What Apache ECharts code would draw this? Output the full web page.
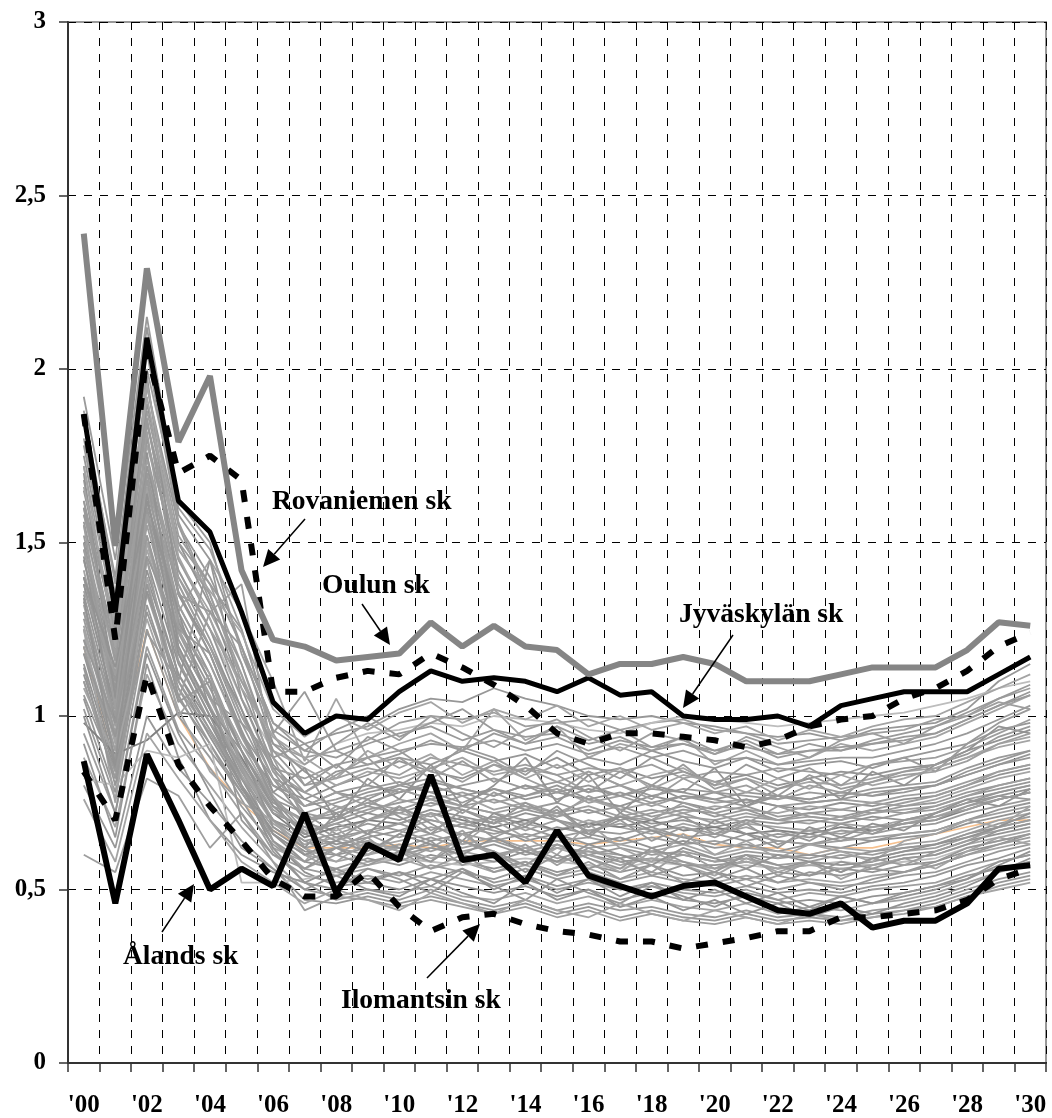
<!DOCTYPE html>
<html>
<head>
<meta charset="utf-8">
<script src="https://cdn.jsdelivr.net/npm/echarts@6/dist/echarts.min.js"></script>
<style>
html,body{margin:0;padding:0;background:#fff;}
#chart{width:1052px;height:1118px;}
</style>
</head>
<body>
<div id="chart"></div>
<script>
// ---------- DATA ----------
const years = ["'00","'01","'02","'03","'04","'05","'06","'07","'08","'09","'10","'11","'12","'13","'14","'15","'16","'17","'18","'19","'20","'21","'22","'23","'24","'25","'26","'27","'28","'29","'30"];
const yTicks = [0, 0.5, 1, 1.5, 2, 2.5, 3];

const oulun      = [2.39,1.49,2.29,1.79,1.98,1.42,1.22,1.20,1.16,1.17,1.18,1.27,1.20,1.26,1.20,1.19,1.12,1.15,1.15,1.17,1.15,1.10,1.10,1.10,1.12,1.14,1.14,1.14,1.19,1.27,1.26];
const rovaniemi  = [1.87,1.22,2.05,1.70,1.75,1.68,1.07,1.07,1.11,1.13,1.12,1.18,1.14,1.09,1.03,0.95,0.92,0.95,0.95,0.94,0.93,0.91,0.93,0.97,0.99,1.00,1.05,1.08,1.13,1.20,1.24];
const jyvaskyla  = [1.87,1.30,2.09,1.62,1.53,1.30,1.04,0.95,1.00,0.99,1.07,1.13,1.10,1.11,1.10,1.07,1.11,1.06,1.07,1.00,0.99,0.99,1.00,0.97,1.03,1.05,1.07,1.07,1.07,1.12,1.17];
const alands     = [0.87,0.46,0.89,0.70,0.50,0.56,0.51,0.72,0.49,0.63,0.585,0.83,0.585,0.60,0.52,0.67,0.54,0.51,0.48,0.51,0.52,0.48,0.44,0.43,0.46,0.39,0.41,0.41,0.46,0.56,0.57];
const ilomantsi  = [0.84,0.70,1.12,0.86,0.74,0.64,0.53,0.48,0.48,0.55,0.45,0.38,0.42,0.43,0.40,0.38,0.37,0.35,0.35,0.33,0.345,0.36,0.38,0.38,0.42,0.42,0.43,0.44,0.47,0.53,0.56];
const orangeRow  = [1.20,0.85,1.25,1.00,0.85,0.75,0.67,0.62,0.62,0.62,0.63,0.62,0.64,0.64,0.64,0.64,0.63,0.64,0.65,0.66,0.63,0.62,0.62,0.60,0.62,0.62,0.64,0.66,0.68,0.70,0.70];

const gray01 = [1.75,1.30,1.95,1.55,1.40,1.20,0.98,0.92,0.95,0.97,1.02,1.05,1.04,1.08,1.05,1.03,1.00,0.99,1.00,0.98,0.97,0.95,0.94,0.95,0.93,0.96,0.97,0.98,1.02,1.10,1.15];
const gray02 = [1.68,1.22,1.88,1.48,1.35,1.10,0.92,0.88,0.90,0.93,0.98,1.00,0.99,1.01,0.97,0.98,0.99,0.96,0.98,0.99,0.96,0.95,0.92,0.93,0.94,0.95,0.96,0.99,1.00,1.05,1.08];
const gray03 = [1.55,1.15,1.80,1.42,1.25,1.05,0.90,0.86,0.92,0.95,0.96,0.98,0.97,1.00,0.99,0.98,0.96,0.95,0.98,1.00,0.99,0.98,0.97,0.98,0.99,1.00,1.01,1.03,1.05,1.08,1.10];
const gray04 = [1.50,1.05,1.70,1.30,1.45,1.30,1.10,0.87,1.05,0.88,0.92,0.95,0.90,1.02,0.93,0.97,0.88,0.92,0.90,0.94,0.86,0.90,0.86,0.88,0.92,0.90,0.92,0.94,0.98,1.02,1.06];
const gray05 = [1.62,1.18,1.85,1.40,1.22,1.00,0.85,0.82,0.86,0.88,0.90,0.92,0.91,0.93,0.90,0.92,0.89,0.91,0.88,0.90,0.87,0.88,0.86,0.87,0.88,0.88,0.90,0.92,0.95,0.99,1.03];
const gray06 = [1.45,1.10,1.72,1.35,1.18,0.95,0.82,0.78,0.84,0.86,0.88,0.86,0.90,0.87,0.89,0.85,0.88,0.86,0.90,0.87,0.85,0.88,0.84,0.86,0.87,0.85,0.88,0.90,0.92,0.96,0.98];
const gray07 = [1.80,1.35,2.00,1.60,1.48,1.25,0.95,0.80,0.82,0.85,0.83,0.88,0.86,0.84,0.86,0.83,0.85,0.84,0.86,0.82,0.84,0.83,0.85,0.84,0.83,0.86,0.87,0.88,0.91,0.95,0.99];
const gray08 = [1.38,1.02,1.62,1.28,1.10,0.92,0.80,0.76,0.80,0.83,0.87,0.84,0.82,0.86,0.84,0.88,0.83,0.85,0.82,0.84,0.81,0.83,0.80,0.82,0.84,0.83,0.85,0.86,0.90,0.93,0.96];
const gray09 = [1.58,1.20,1.78,1.45,1.30,1.12,0.90,0.85,0.80,0.84,0.82,0.85,0.88,0.83,0.85,0.81,0.84,0.80,0.83,0.85,0.80,0.82,0.79,0.81,0.80,0.82,0.84,0.85,0.88,0.92,0.94];
const gray10 = [1.52,1.12,1.75,1.38,1.20,0.98,0.80,0.74,0.76,0.79,0.81,0.78,0.80,0.82,0.79,0.81,0.78,0.80,0.77,0.79,0.78,0.77,0.76,0.78,0.77,0.79,0.80,0.81,0.85,0.88,0.90];
const gray11 = [1.40,1.05,1.65,1.30,1.12,0.90,0.76,0.72,0.75,0.78,0.80,0.82,0.79,0.77,0.80,0.76,0.79,0.77,0.80,0.76,0.78,0.75,0.77,0.76,0.78,0.77,0.78,0.80,0.83,0.86,0.88];
const gray12 = [1.30,0.95,1.55,1.22,1.05,0.88,0.74,0.70,0.73,0.77,0.79,0.76,0.78,0.75,0.77,0.79,0.75,0.77,0.74,0.77,0.75,0.76,0.74,0.75,0.76,0.75,0.77,0.78,0.81,0.84,0.86];
const gray13 = [1.65,1.25,1.90,1.50,1.32,1.08,0.86,0.76,0.72,0.75,0.78,0.80,0.77,0.79,0.76,0.78,0.76,0.74,0.77,0.75,0.73,0.76,0.74,0.73,0.75,0.74,0.76,0.77,0.80,0.83,0.85];
const gray14 = [1.22,0.90,1.48,1.18,1.02,0.85,0.72,0.68,0.74,0.72,0.76,0.74,0.77,0.73,0.75,0.72,0.76,0.73,0.75,0.72,0.74,0.73,0.72,0.74,0.73,0.75,0.74,0.76,0.79,0.82,0.84];
const gray15 = [1.48,1.08,1.70,1.32,1.15,0.95,0.78,0.72,0.70,0.73,0.75,0.77,0.74,0.76,0.73,0.75,0.72,0.74,0.71,0.73,0.72,0.74,0.71,0.72,0.73,0.72,0.74,0.75,0.78,0.80,0.82];
const gray16 = [1.35,1.00,1.60,1.25,1.08,0.90,0.75,0.70,0.71,0.74,0.72,0.75,0.73,0.70,0.73,0.71,0.73,0.70,0.72,0.74,0.71,0.73,0.70,0.72,0.71,0.73,0.72,0.74,0.77,0.79,0.81];
const gray17 = [1.72,1.28,1.95,1.52,1.38,1.15,0.88,0.78,0.74,0.70,0.73,0.71,0.74,0.72,0.70,0.72,0.69,0.71,0.70,0.72,0.69,0.71,0.70,0.69,0.71,0.70,0.72,0.73,0.76,0.78,0.80];
const gray18 = [1.18,0.86,1.42,1.12,0.98,0.82,0.70,0.66,0.69,0.72,0.70,0.73,0.71,0.69,0.72,0.70,0.68,0.71,0.69,0.70,0.68,0.70,0.69,0.70,0.69,0.71,0.70,0.72,0.75,0.77,0.79];
const gray19 = [1.42,1.04,1.66,1.28,1.10,0.92,0.76,0.69,0.67,0.70,0.72,0.70,0.68,0.71,0.69,0.67,0.70,0.68,0.66,0.69,0.67,0.69,0.68,0.67,0.69,0.68,0.70,0.71,0.74,0.76,0.78];
const gray20 = [1.28,0.94,1.52,1.20,1.02,0.84,0.70,0.64,0.66,0.69,0.67,0.70,0.68,0.66,0.68,0.65,0.67,0.66,0.68,0.65,0.66,0.64,0.66,0.65,0.67,0.66,0.68,0.69,0.72,0.74,0.76];
const gray21 = [1.56,1.16,1.80,1.42,1.25,1.02,0.82,0.70,0.65,0.67,0.69,0.66,0.69,0.67,0.65,0.68,0.66,0.64,0.67,0.65,0.63,0.66,0.64,0.63,0.65,0.64,0.66,0.67,0.70,0.73,0.75];
const gray22 = [1.10,0.82,1.35,1.08,0.95,0.80,0.68,0.62,0.64,0.67,0.65,0.68,0.66,0.64,0.66,0.64,0.65,0.63,0.65,0.63,0.64,0.62,0.64,0.63,0.64,0.65,0.66,0.67,0.70,0.72,0.74];
const gray23 = [1.38,1.02,1.62,1.27,1.10,0.90,0.74,0.66,0.63,0.65,0.67,0.64,0.66,0.68,0.64,0.66,0.63,0.65,0.62,0.64,0.62,0.63,0.61,0.63,0.62,0.64,0.65,0.66,0.69,0.71,0.73];
const gray24 = [1.25,0.92,1.50,1.18,1.00,0.83,0.69,0.63,0.65,0.62,0.64,0.66,0.63,0.65,0.62,0.64,0.62,0.63,0.61,0.63,0.60,0.62,0.61,0.60,0.62,0.61,0.63,0.64,0.67,0.70,0.72];
const gray25 = [1.60,1.20,1.85,1.45,1.28,1.05,0.84,0.72,0.66,0.63,0.62,0.65,0.62,0.64,0.61,0.63,0.60,0.62,0.60,0.61,0.59,0.61,0.60,0.59,0.61,0.60,0.62,0.63,0.66,0.69,0.71];
const gray26 = [1.05,0.78,1.30,1.05,0.92,0.78,0.66,0.60,0.62,0.64,0.61,0.63,0.61,0.63,0.60,0.62,0.61,0.59,0.61,0.60,0.58,0.60,0.59,0.60,0.59,0.61,0.62,0.63,0.66,0.68,0.70];
const gray27 = [1.45,1.07,1.68,1.32,1.15,0.94,0.77,0.67,0.62,0.60,0.63,0.61,0.64,0.60,0.62,0.59,0.61,0.60,0.58,0.60,0.58,0.59,0.57,0.58,0.60,0.59,0.61,0.62,0.65,0.67,0.69];
const gray28 = [1.15,0.85,1.40,1.12,0.96,0.80,0.66,0.58,0.56,0.59,0.57,0.60,0.58,0.56,0.58,0.55,0.57,0.55,0.57,0.54,0.55,0.53,0.55,0.54,0.56,0.55,0.57,0.58,0.61,0.63,0.66];
const gray29 = [1.32,0.98,1.58,1.25,1.05,0.86,0.70,0.60,0.55,0.57,0.59,0.56,0.58,0.55,0.57,0.54,0.56,0.53,0.55,0.53,0.52,0.54,0.52,0.53,0.52,0.54,0.55,0.57,0.60,0.62,0.64];
const gray30 = [1.02,0.76,1.25,1.00,0.88,0.74,0.63,0.56,0.54,0.56,0.54,0.57,0.55,0.53,0.56,0.53,0.55,0.52,0.54,0.52,0.51,0.53,0.50,0.52,0.51,0.52,0.54,0.55,0.58,0.61,0.63];
const gray31 = [1.50,1.10,1.72,1.36,1.18,0.96,0.76,0.62,0.55,0.53,0.55,0.53,0.56,0.52,0.54,0.51,0.53,0.50,0.52,0.50,0.49,0.51,0.49,0.50,0.49,0.51,0.52,0.54,0.57,0.59,0.62];
const gray32 = [0.95,0.72,1.20,0.96,0.85,0.72,0.60,0.54,0.52,0.54,0.52,0.55,0.53,0.51,0.53,0.50,0.52,0.50,0.51,0.49,0.48,0.50,0.47,0.49,0.48,0.50,0.51,0.52,0.55,0.58,0.60];
const gray33 = [1.20,0.88,1.45,1.15,0.98,0.80,0.64,0.55,0.51,0.52,0.50,0.53,0.51,0.49,0.51,0.48,0.50,0.47,0.49,0.47,0.46,0.48,0.46,0.47,0.46,0.48,0.49,0.51,0.54,0.56,0.58];
const gray34 = [0.88,0.68,1.12,0.92,0.80,0.68,0.58,0.50,0.48,0.50,0.49,0.51,0.48,0.47,0.49,0.46,0.48,0.45,0.47,0.45,0.44,0.46,0.43,0.45,0.44,0.46,0.47,0.49,0.52,0.55,0.57];
const gray35 = [1.10,0.82,1.38,1.08,0.92,0.76,0.61,0.52,0.47,0.49,0.47,0.50,0.47,0.45,0.47,0.44,0.46,0.44,0.45,0.43,0.42,0.44,0.42,0.43,0.42,0.44,0.45,0.47,0.50,0.53,0.55];
const gray36 = [0.80,0.62,1.00,0.85,0.75,0.64,0.56,0.47,0.46,0.48,0.46,0.48,0.46,0.44,0.46,0.43,0.45,0.42,0.44,0.42,0.41,0.43,0.41,0.42,0.41,0.43,0.44,0.46,0.49,0.52,0.54];
const gray37 = [0.60,0.55,0.82,0.77,0.62,0.72,0.58,0.44,0.48,0.47,0.45,0.47,0.45,0.43,0.45,0.42,0.44,0.41,0.43,0.41,0.40,0.42,0.40,0.41,0.40,0.42,0.43,0.45,0.48,0.51,0.53];
const gray38 = [0.98,0.89,0.93,1.01,1.00,0.88,0.72,0.65,0.68,0.70,0.69,0.72,0.70,0.68,0.70,0.67,0.69,0.68,0.70,0.67,0.68,0.66,0.67,0.66,0.68,0.67,0.69,0.70,0.73,0.76,0.78];
const gray39 = [0.82,0.80,0.90,0.88,0.92,0.52,0.52,0.53,0.55,0.58,0.59,0.58,0.57,0.58,0.59,0.58,0.57,0.56,0.58,0.57,0.56,0.57,0.56,0.57,0.58,0.57,0.58,0.59,0.62,0.64,0.66];
const gray40 = [1.62,1.24,1.84,1.50,1.38,1.25,0.95,1.07,0.90,0.86,0.89,0.93,0.90,0.95,0.92,0.94,0.90,0.93,0.91,0.92,0.89,0.92,0.88,0.90,0.91,0.92,0.94,0.95,0.99,1.03,1.06];
const gray41 = [1.85,1.40,2.12,1.58,1.45,1.20,0.92,0.84,0.78,0.76,0.80,0.78,0.75,0.79,0.77,0.80,0.76,0.78,0.75,0.77,0.76,0.74,0.77,0.75,0.76,0.78,0.79,0.80,0.84,0.87,0.90];
const gray42 = [1.33,0.97,1.57,1.24,1.06,0.87,0.73,0.67,0.69,0.66,0.69,0.72,0.69,0.71,0.67,0.70,0.67,0.69,0.67,0.68,0.66,0.68,0.65,0.67,0.66,0.68,0.69,0.71,0.73,0.76,0.78];
const gray43 = [1.12,0.84,1.36,1.10,0.94,0.79,0.67,0.61,0.60,0.62,0.60,0.62,0.60,0.58,0.61,0.58,0.60,0.58,0.59,0.57,0.57,0.58,0.56,0.58,0.57,0.58,0.60,0.61,0.64,0.66,0.68];
const gray44 = [1.26,0.93,1.50,1.19,1.03,0.85,0.70,0.62,0.58,0.60,0.62,0.59,0.61,0.59,0.62,0.58,0.60,0.57,0.59,0.58,0.56,0.58,0.56,0.57,0.56,0.57,0.59,0.60,0.63,0.65,0.67];
const gray45 = [1.92,1.45,2.15,1.62,1.50,1.18,0.96,0.90,0.88,0.92,0.95,0.97,0.93,0.96,0.94,0.95,0.92,0.94,0.90,0.92,0.90,0.91,0.89,0.90,0.90,0.92,0.93,0.95,0.99,1.03,1.07];
const gray46 = [1.40,1.08,1.60,1.10,1.45,1.05,0.85,0.74,0.78,0.80,0.78,0.81,0.79,0.77,0.80,0.78,0.80,0.77,0.79,0.78,0.76,0.78,0.77,0.76,0.78,0.77,0.79,0.80,0.83,0.86,0.89];
const gray47 = [1.20,0.90,1.45,1.05,1.30,1.38,0.88,0.70,0.72,0.75,0.73,0.76,0.74,0.72,0.74,0.72,0.74,0.71,0.73,0.71,0.70,0.72,0.70,0.71,0.70,0.72,0.73,0.74,0.77,0.80,0.82];
const gray48 = [1.70,1.05,1.98,1.35,1.20,1.02,0.78,0.85,0.70,0.82,0.76,0.86,0.74,0.80,0.88,0.75,0.83,0.72,0.80,0.78,0.85,0.74,0.79,0.82,0.76,0.84,0.80,0.86,0.90,0.97,0.95];
const gray49 = [1.25,0.75,1.40,1.00,1.12,0.80,0.62,0.58,0.68,0.60,0.66,0.72,0.63,0.70,0.65,0.60,0.69,0.62,0.58,0.66,0.60,0.64,0.59,0.63,0.61,0.58,0.64,0.66,0.70,0.68,0.74];
const gray50 = [1.58,1.28,1.68,1.22,1.05,0.98,0.88,0.92,0.85,0.94,0.90,0.84,0.91,0.88,0.83,0.90,0.86,0.82,0.88,0.84,0.80,0.86,0.82,0.85,0.80,0.86,0.88,0.84,0.92,0.98,1.02];
const gray51 = [0.92,0.65,1.15,0.88,0.70,0.60,0.55,0.52,0.50,0.56,0.53,0.49,0.55,0.51,0.47,0.53,0.49,0.46,0.51,0.48,0.45,0.49,0.47,0.44,0.48,0.46,0.49,0.51,0.53,0.58,0.60];
const gray52 = [1.36,1.12,1.58,1.40,1.25,1.10,0.94,0.86,0.92,0.98,0.93,1.00,0.95,0.91,0.96,0.99,0.94,0.90,0.95,0.93,0.89,0.94,0.91,0.88,0.93,0.95,0.92,0.97,1.00,1.04,1.02];
const gray53 = [1.46,0.98,1.76,1.20,1.02,0.90,0.68,0.62,0.72,0.66,0.74,0.69,0.64,0.72,0.68,0.74,0.66,0.71,0.67,0.63,0.70,0.66,0.62,0.68,0.65,0.69,0.67,0.72,0.76,0.74,0.79];
const gray54 = [1.08,0.88,1.28,1.02,0.84,0.75,0.70,0.60,0.58,0.64,0.61,0.58,0.66,0.60,0.57,0.62,0.59,0.55,0.61,0.57,0.54,0.59,0.55,0.58,0.53,0.57,0.59,0.56,0.61,0.65,0.63];
const gray55 = [1.78,1.32,2.05,1.55,1.33,1.15,0.90,0.80,0.86,0.80,0.88,0.82,0.87,0.81,0.85,0.83,0.78,0.84,0.80,0.86,0.79,0.82,0.77,0.83,0.79,0.81,0.84,0.86,0.89,0.94,0.97];
const gray56 = [1.22,0.98,1.46,1.25,1.18,0.95,0.76,0.66,0.70,0.76,0.71,0.66,0.73,0.69,0.75,0.70,0.65,0.72,0.68,0.71,0.66,0.70,0.67,0.64,0.69,0.66,0.70,0.72,0.75,0.78,0.80];
const gray57 = [1.55,1.02,1.82,1.26,1.12,0.85,0.64,0.56,0.60,0.65,0.58,0.62,0.67,0.59,0.63,0.57,0.62,0.58,0.55,0.61,0.56,0.60,0.54,0.58,0.55,0.59,0.57,0.61,0.64,0.68,0.70];
const gray58 = [1.00,0.72,1.18,0.95,0.78,0.62,0.56,0.50,0.54,0.50,0.48,0.53,0.49,0.46,0.52,0.47,0.50,0.45,0.48,0.44,0.47,0.43,0.46,0.42,0.45,0.43,0.46,0.48,0.51,0.55,0.59];
const gray59 = [1.66,1.26,1.92,1.46,1.28,1.08,0.94,0.88,0.82,0.90,0.85,0.89,0.83,0.87,0.82,0.86,0.81,0.85,0.79,0.83,0.81,0.78,0.82,0.79,0.83,0.80,0.82,0.85,0.88,0.91,0.93];
const gray60 = [1.30,1.00,1.52,1.16,0.98,0.86,0.72,0.68,0.64,0.70,0.74,0.67,0.71,0.65,0.69,0.73,0.66,0.70,0.64,0.68,0.65,0.69,0.63,0.66,0.64,0.67,0.69,0.70,0.74,0.77,0.76];
const gray61 = [1.14,0.80,1.32,1.04,1.10,0.70,0.60,0.56,0.62,0.58,0.60,0.64,0.57,0.61,0.55,0.60,0.56,0.59,0.54,0.57,0.53,0.56,0.52,0.55,0.54,0.56,0.55,0.58,0.62,0.64,0.66];
const gray62 = [1.88,1.38,2.08,1.56,1.35,1.12,0.84,0.78,0.83,0.88,0.80,0.85,0.81,0.86,0.82,0.78,0.84,0.80,0.76,0.82,0.78,0.80,0.76,0.80,0.78,0.81,0.83,0.84,0.87,0.92,0.95];
const gray63 = [1.40,1.14,1.62,1.30,1.02,0.82,0.66,0.60,0.64,0.61,0.66,0.63,0.60,0.65,0.61,0.58,0.63,0.60,0.57,0.62,0.59,0.56,0.60,0.58,0.55,0.59,0.61,0.63,0.65,0.68,0.72];
const gray64 = [0.76,0.58,0.95,0.82,0.70,0.58,0.52,0.46,0.50,0.47,0.44,0.49,0.46,0.43,0.47,0.44,0.42,0.46,0.43,0.41,0.44,0.42,0.40,0.43,0.41,0.42,0.44,0.45,0.48,0.50,0.52];
const gray65 = [1.60,1.16,1.86,1.35,1.30,1.20,0.98,0.90,0.96,1.00,0.94,0.98,1.02,0.96,0.92,0.97,0.93,0.96,0.91,0.94,0.90,0.93,0.89,0.92,0.90,0.93,0.95,0.97,1.01,1.05,1.09];
const gray66 = [1.18,0.94,1.38,1.06,0.90,0.78,0.64,0.58,0.62,0.66,0.62,0.58,0.64,0.61,0.57,0.63,0.59,0.56,0.62,0.58,0.55,0.60,0.57,0.54,0.58,0.56,0.59,0.60,0.63,0.67,0.69];
const gray67 = [1.48,1.18,1.74,1.38,1.20,1.00,0.82,0.74,0.78,0.74,0.79,0.76,0.72,0.78,0.74,0.71,0.77,0.73,0.70,0.75,0.72,0.69,0.74,0.71,0.70,0.73,0.75,0.77,0.80,0.84,0.86];
const gray68 = [1.34,0.86,1.64,1.18,1.00,0.80,0.62,0.52,0.56,0.52,0.55,0.51,0.56,0.50,0.54,0.49,0.53,0.48,0.52,0.47,0.50,0.46,0.49,0.45,0.48,0.46,0.48,0.50,0.53,0.57,0.61];
const gray69 = [1.72,1.20,1.96,1.48,1.36,1.24,1.02,0.94,1.00,0.96,1.01,1.04,0.98,1.02,0.99,1.03,0.97,1.00,0.96,0.98,0.95,0.97,0.93,0.96,0.94,0.97,0.99,1.00,1.04,1.08,1.12];
const gray70 = [1.06,0.84,1.24,1.10,0.96,0.82,0.70,0.64,0.60,0.57,0.61,0.56,0.60,0.55,0.58,0.54,0.58,0.53,0.57,0.52,0.55,0.51,0.54,0.52,0.50,0.53,0.55,0.57,0.60,0.63,0.65];

const grayRows = [gray01,gray02,gray03,gray04,gray05,gray06,gray07,gray08,gray09,gray10,gray11,gray12,gray13,gray14,gray15,gray16,gray17,gray18,gray19,gray20,gray21,gray22,gray23,gray24,gray25,gray26,gray27,gray28,gray29,gray30,gray31,gray32,gray33,gray34,gray35,gray36,gray37,gray38,gray39,gray40,gray41,gray42,gray43,gray44,gray45,gray46,gray47,gray48,gray49,gray50,gray51,gray52,gray53,gray54,gray55,gray56,gray57,gray58,gray59,gray60,gray61,gray62,gray63,gray64,gray65,gray66,gray67,gray68,gray69,gray70];

// ---------- CHART ----------
const FONT = '"Liberation Serif","Times New Roman",serif';
const chart = echarts.init(document.getElementById('chart'), null, {renderer:'canvas'});

const grayShades = ['#979797','#9e9e9e','#939393','#a4a4a4','#9a9a9a'];
const series = [];
series.push({type:'line', data:orangeRow, symbol:'none', z:1, lineStyle:{color:'#f6c08e', width:1.6}});
grayRows.forEach((row, i) => {
  let c = grayShades[i % grayShades.length];
  if (row === gray38) c = '#808080';
  if (row === gray39 || row === gray03) c = '#bdbdbd';
  series.push({type:'line', data:row, symbol:'none', silent:true, z:2,
    lineStyle:{color:c, width:1.8}});
});
series.push({name:'Ilomantsin sk', type:'line', data:ilomantsi, symbol:'none', z:5,
  lineStyle:{color:'#000', width:6, type:[12,15]}});
series.push({name:'Ålands sk', type:'line', data:alands, symbol:'none', z:5,
  lineStyle:{color:'#000', width:6}});
series.push({name:'Jyväskylän sk', type:'line', data:jyvaskyla, symbol:'none', z:5,
  lineStyle:{color:'#000', width:5}});
series.push({name:'Rovaniemen sk', type:'line', data:rovaniemi, symbol:'none', z:6,
  lineStyle:{color:'#000', width:6, type:[12,15]}});
series.push({name:'Oulun sk', type:'line', data:oulun, symbol:'none', z:7,
  lineStyle:{color:'#858585', width:6}});

// annotation helpers
function arrow(x1,y1,x2,y2){
  const dx=x2-x1, dy=y2-y1, L=Math.sqrt(dx*dx+dy*dy), ux=dx/L, uy=dy/L;
  const hl=17, hw=8;
  const bx=x2-ux*hl, by=y2-uy*hl;
  return [
    {type:'line', shape:{x1:x1,y1:y1,x2:bx,y2:by}, style:{stroke:'#000', lineWidth:1.5}, z:100},
    {type:'polygon', shape:{points:[[x2,y2],[bx-uy*hw,by+ux*hw],[bx+uy*hw,by-ux*hw]]}, style:{fill:'#000'}, z:100}
  ];
}
function label(text,x,y){
  return {type:'text', x:x, y:y, z:100, style:{text:text, font:'bold 27.5px '+FONT, fill:'#000', textVerticalAlign:'middle'}};
}
const graphics = [].concat(
  label('Rovaniemen sk', 272, 502), arrow(305,519,263,567),
  label('Oulun sk', 322, 586), arrow(362,604,390,645),
  label('Jyväskylän sk', 679, 615), arrow(733,635,683,708),
  label('Ålands sk', 123, 957), arrow(162,932,194,884),
  label('Ilomantsin sk', 341, 1001), arrow(427,978,480,924)
);

chart.setOption({
  animation:false,
  backgroundColor:'#fff',
  grid:{left:68, right:6, top:22, bottom:55, show:true, borderColor:'#999', borderWidth:2, backgroundColor:'transparent'},
  xAxis:{
    type:'category', data:years, boundaryGap:true,
    axisLine:{lineStyle:{color:'#333', width:2}},
    axisTick:{show:true, interval:0, length:9, lineStyle:{color:'#333', width:1.5}},
    axisLabel:{interval:1, margin:30, color:'#000', fontFamily:FONT, fontWeight:'bold', fontSize:25},
    splitLine:{show:true, interval:0, lineStyle:{color:'#000', width:1, type:[8,8]}}
  },
  yAxis:{
    type:'value', min:yTicks[0], max:yTicks[yTicks.length-1], interval:0.5,
    axisLine:{show:true, lineStyle:{color:'#333', width:2}},
    axisTick:{show:true, length:9, lineStyle:{color:'#333', width:1.5}},
    axisLabel:{margin:22, color:'#000', fontFamily:FONT, fontWeight:'bold', fontSize:25,
      formatter:v => String(v).replace('.', ',')},
    splitLine:{show:true, lineStyle:{color:'#000', width:1, type:[8,8]}}
  },
  series:series,
  graphic:graphics
});
</script>
</body>
</html>
